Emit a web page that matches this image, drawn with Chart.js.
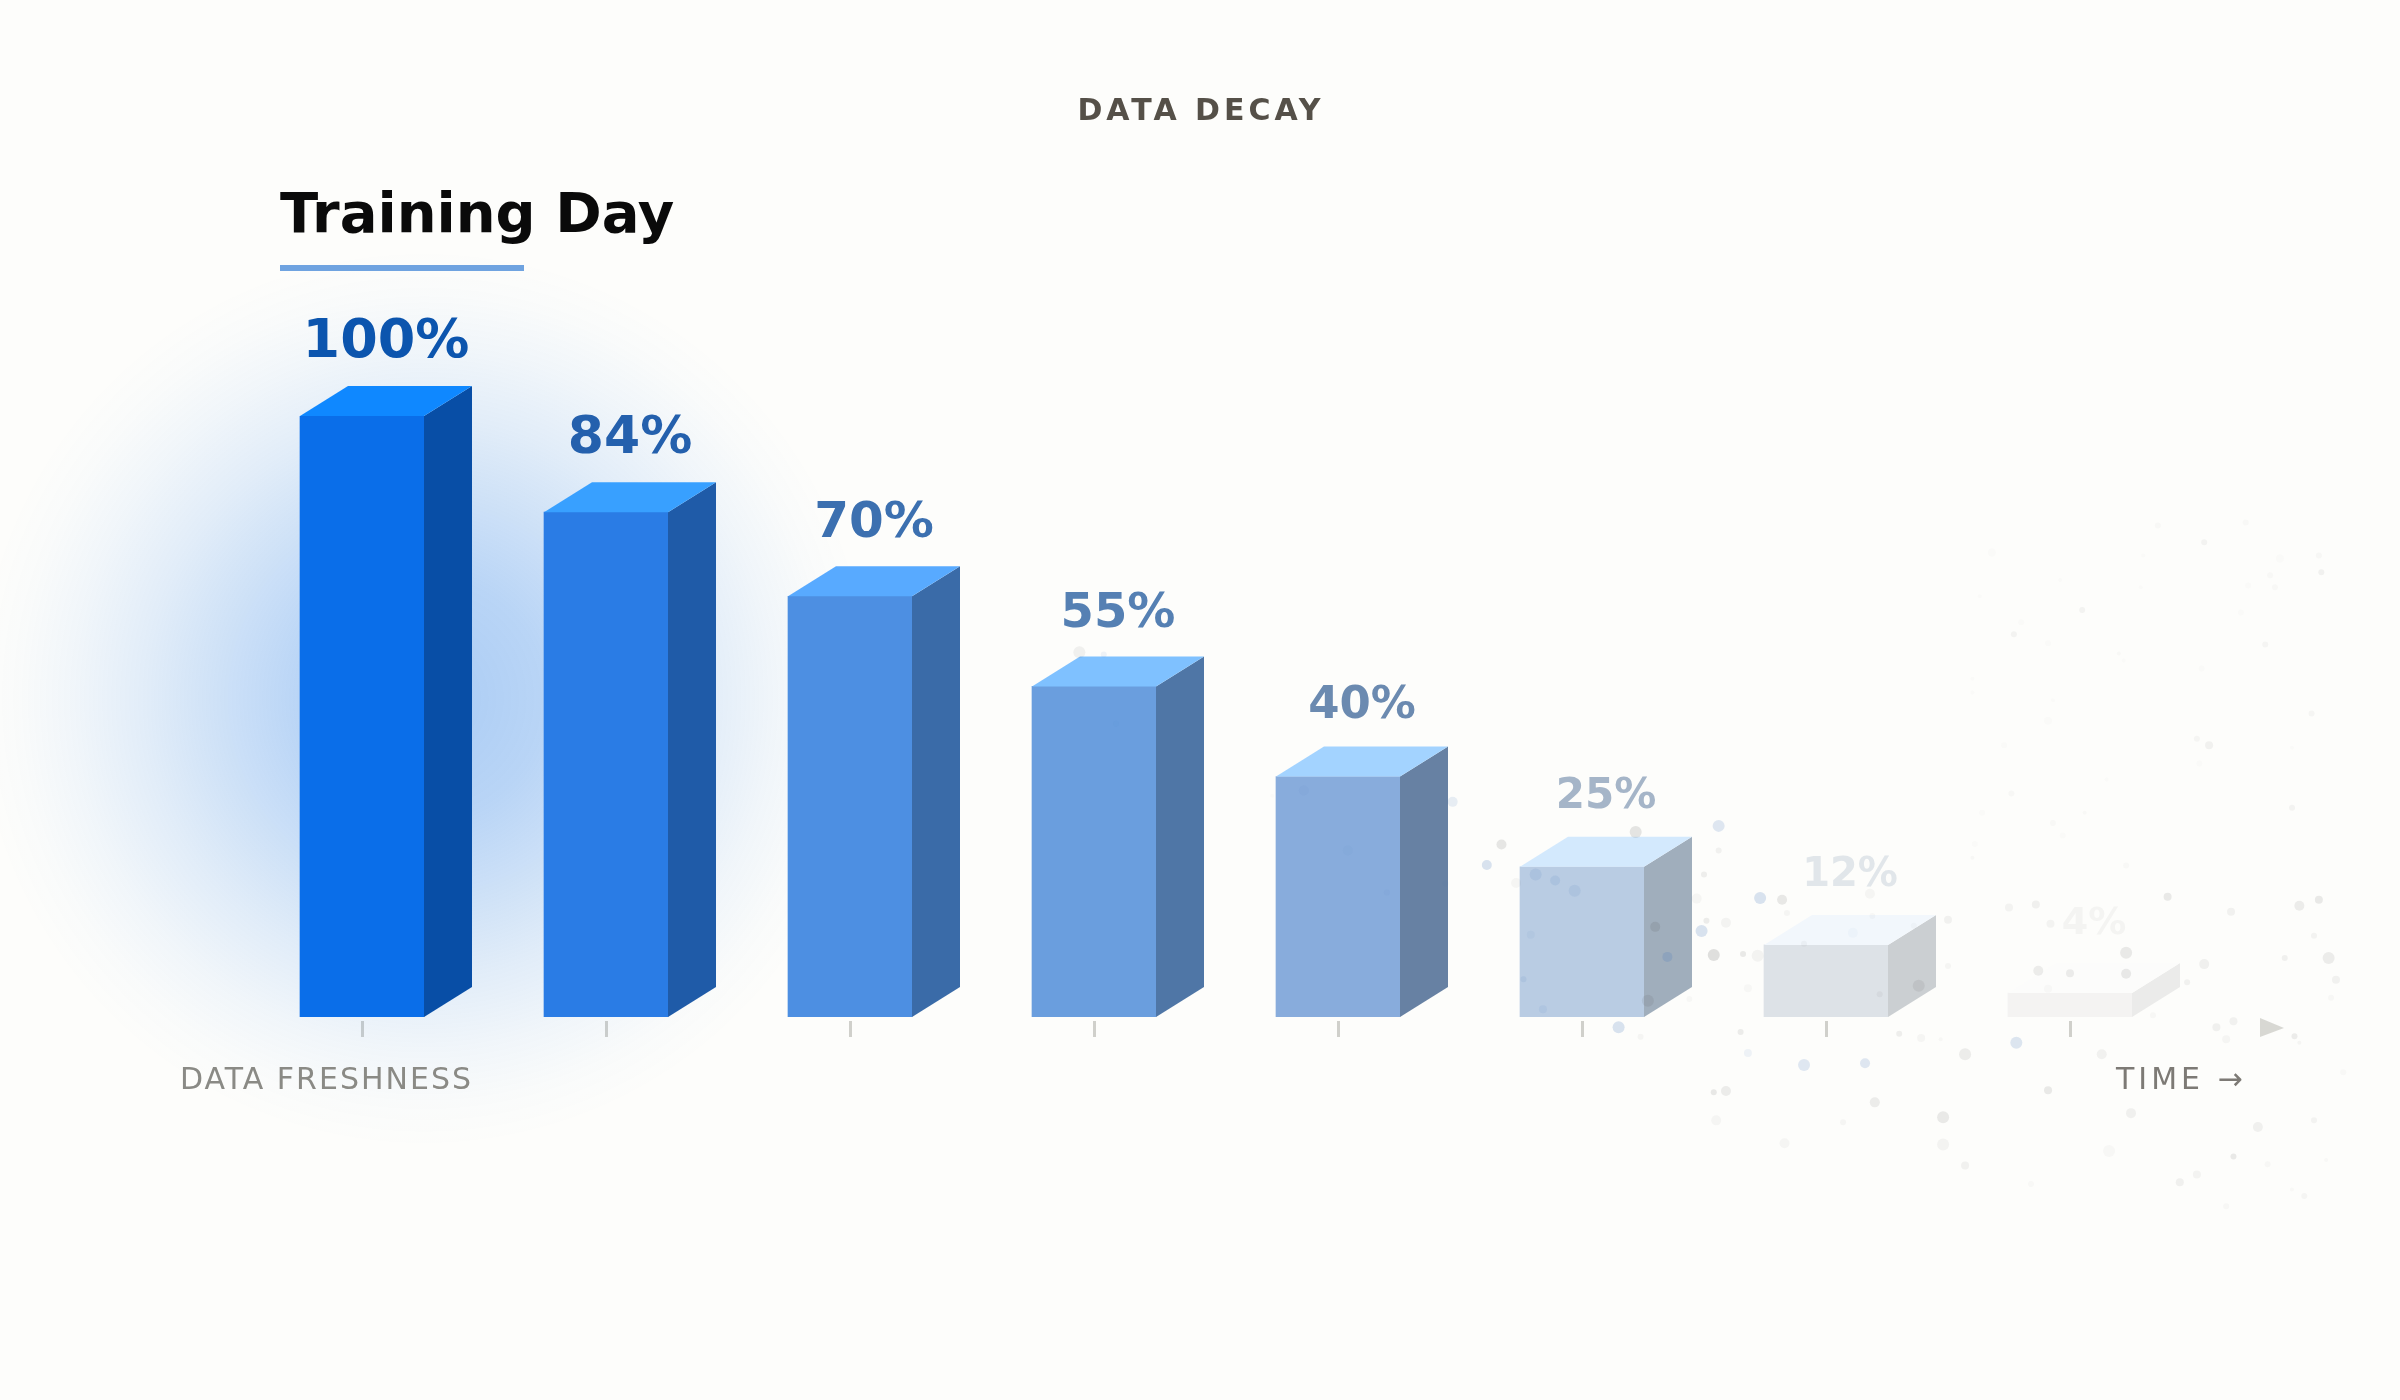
<!DOCTYPE html>
<html>
<head>
<meta charset="utf-8">
<title>Data Decay</title>
<script src="https://cdn.jsdelivr.net/npm/chart.js@4"></script>
<style>
  html, body { margin: 0; padding: 0; background: #fdfdfb; }
  canvas { display: block; }
</style>
</head>
<body>
<canvas id="chart" width="2400" height="1400"></canvas>
<script>
const categories = ["Day 1", "Day 2", "Day 3", "Day 4", "Day 5", "Day 6", "Day 7", "Day 8"];
const freshness = [100, 84, 70, 55, 40, 25, 12, 4];
const valueLabels = ["100%", "84%", "70%", "55%", "40%", "25%", "12%", "4%"];

// Faces of each box, plus the label above it. They all fade with time.
const frontColors = ["#0a6ee9", "#2a7ce5", "#4d8fe2", "#6a9ede", "#88acdc", "#b9cce3", "#dde2e7", "#f4f3f2"];
const topColors = ["#0f88ff", "#38a0ff", "#58aaff", "#7fc1ff", "#a3d3ff", "#d3e9fd", "#f2f7fc", "#fcfcfb"];
const sideColors = ["#084ea6", "#1f5ba8", "#3a6ba8", "#4f76a6", "#6781a3", "#a0aebc", "#cbcfd2", "#ebebea"];
const labelColors = ["#0c55ae", "#2460ad", "#3c70b0", "#5580b3", "#6b8ab0", "#a5b5c8", "#e1e6ea", "#f4f4f2"];
const labelSizes = [54, 52, 50, 48, 45, 42, 40, 38];

// Dust drifting off the old bars: x in bar positions, y on the same % axis.
const dustX = [4.47, 5.22, 5.56, 4.67, 4.61, 5.56, 4.81, 4.89, 4.97, 4.73, 5.5, 5.47, 5.73, 5.82, 5.84, 6.18, 5.51, 5.59, 5.49, 5.3,
  5.35, 5.54, 5.66, 5.72, 6.19, 6.5, 6.36, 6.11, 5.91, 4.79, 4.76, 4.84, 5.27, 5.44, 5.68, 6.38, 6.22, 5.15, 5.24, 5.65,
  5.68, 6.3, 6.39, 6.5, 5.91, 6.16, 6.47, 6.57, 6.78, 7.13, 5.54, 5.59, 6.91, 6.2, 6.48, 7.25, 5.55, 6.07, 6.48, 5.83,
  7.16, 6.57, 6.84, 6.75, 6.86, 6.92, 7.4, 7.66, 7.94, 8.02, 8.0, 7.88, 8.06, 8.09, 8.07, 7.23, 6.87, 7.0, 7.23, 7.55,
  7.48, 6.91, 7.34, 7.6, 7.67, 7.64, 7.92, 7.94, 7.77, 8.0, 8.12, 7.67, 7.81, 7.52, 7.45, 7.96, 7.91, 7.64, 8.05,
  7.36, 7.72, 7.55, 6.68, 7.3, 7.86, 8.02, 8.03, 7.82, 7.84, 7.73, 6.96, 7.29, 6.63, 7.05, 7.7, 6.77, 6.8, 6.91, 7.8,
  7.2, 7.22, 7.54, 6.6, 6.6, 6.93, 6.91, 7.99, 7.52, 7.57, 6.73, 7.91, 7.53, 7.15, 6.76, 7.06, 6.64, 7.91, 6.93, 6.97,
  6.61, 6.6, 7.23, 2.94, 3.04, 3.86, 4.04, 3.09, 4.2, 4.44, 3.73];
const dustY = [35.8, 30.8, 31.8, 28.7, 25.3, 27.7, 23.7, 22.7, 21, 22.3, 23.7, 19.7, 19.8, 19.5, 17.3, 20.5, 16, 15.7, 14.3, 15,
  10, 10.3, 10.5, 10.2, 16.8, 16.2, 15.2, 14, 12.2, 13.7, 6.3, 1.3, 2.7, 3, 4.8, 5.2, 3.8, -1.7, -3.3, -2.5,
  -6, -2.8, -3.5, 8.5, -8, -7.7, -3.7, -6.2, -4.3, -6.2, -12.5, -12.3, -12.2, -14.2, -16.7, -16, -17.2, -17.5, -21.2, -21,
  -22.3, -24.7, -27.8, 18.2, 18.7, 15.5, 20, 17.5, 18.5, 19.5, 13.5, 9.8, 9.8, 6.2, 3.2, 10.7, 7.7, 7.3, 7.2, 8.8,
  5.8, 4.7, 0.3, -1.7, -0.7, -3.7, -3.2, -4.3, -18.3, -17.2, -9.2, -23.2, -24.5, -26.2, -27.5, -29.8, -28.7, -31.5, -23.8,
  81.8, 82.3, 79, 77.3, 76.8, 76.3, 76.8, 74, 73.5, 71.5, 71.8, 72.7, 71.5, 70, 67.7, 67.3, 63.7, 65.7, 62.2, 62,
  60.5, 59.3, 58, 56.3, 54, 52.7, 49.3, 50.5, 46.3, 45.2, 45.2, 44.8, 42.2, 39.5, 37.2, 34, 34, 34.8, 32.3, 30.2,
  28.8, 26.5, 25.2, 60.7, 60.3, 37.7, 27.7, 48.8, 20.7, 22.2, 36.8];
const dustSize = [5, 6, 6, 5, 5, 3, 6, 5, 6, 5, 3, 5, 6, 5, 3, 5, 3, 5, 6, 5,
  5, 6, 3, 6, 3, 4, 3, 5, 3, 4, 3, 4, 6, 3, 4, 6, 3, 6, 3, 3,
  4, 3, 4, 3, 6, 5, 2, 6, 6, 5, 3, 5, 4, 5, 6, 5, 5, 3, 6, 5,
  6, 4, 3, 4, 4, 4, 4, 4, 5, 4, 3, 3, 6, 4, 3, 6, 5, 4, 5, 5,
  3, 4, 3, 4, 4, 4, 3, 2, 5, 3, 3, 3, 3, 4, 4, 3, 2, 3, 2,
  3, 3, 3, 4, 2, 4, 3, 3, 3, 3, 3, 2, 2, 2, 3, 3, 3, 3, 3, 3,
  2, 2, 3, 2, 2, 2, 4, 3, 3, 4, 3, 2, 3, 2, 3, 2, 3, 3, 3, 3,
  3, 2, 3, 6, 3, 5, 5, 3, 3, 3, 2];
const dustAlpha = [.12, .15, .17, .14, .2, .07, .12, .12, .1, .05, .09, .05, .2, .13, .05, .05, .1, .06, .2, .15,
  .2, .18, .12, .06, .04, .07, .03, .03, .05, .06, .1, .08, .12, .04, .04, .1, .06, .2, .05, .1,
  .08, .09, .05, .05, .16, .17, .04, .1, .18, .07, .13, .1, .12, .1, .12, .08, .05, .05, .06, .05,
  .04, .07, .03, .06, .08, .06, .12, .07, .1, .12, .06, .08, .1, .07, .04, .12, .1, .1, .12, .08,
  .07, .03, .04, .08, .07, .05, .1, .05, .08, .06, .03, .12, .04, .06, .08, .05, .03, .04, .03,
  .03, .03, .06, .02, .02, .02, .04, .07, .03, .03, .02, .015, .02, .02, .06, .02, .06, .015, .02, .05,
  .03, .02, .02, .015, .02, .02, .02, .05, .05, .07, .02, .02, .02, .02, .04, .03, .015, .06, .03, .015,
  .02, .04, .03, .08, .08, .05, .04, .03, .05, .04, .02];
// Positions in the dust arrays that read blue rather than grey.
const dustBlue = [0, 2, 4, 6, 7, 8, 12, 18, 20, 27, 29, 30, 31, 37, 40, 44, 45, 48, 143, 144, 145, 146, 147, 148, 150];

const DEPTH_X = 48, DEPTH_Y = 30;
const BOLD = '"DejaVu Sans", sans-serif';

function polygon(ctx, color, pts) {
  ctx.fillStyle = color;
  ctx.beginPath();
  pts.forEach((p, i) => (i ? ctx.lineTo(p[0], p[1]) : ctx.moveTo(p[0], p[1])));
  ctx.closePath();
  ctx.fill();
}

function text(ctx, str, x, y, font, color, spacing, align) {
  ctx.font = font;
  ctx.fillStyle = color;
  ctx.letterSpacing = spacing || "0px";
  ctx.textAlign = align || "left";
  ctx.textBaseline = "alphabetic";
  ctx.fillText(str, x, y);
  ctx.letterSpacing = "0px";
}

// Soft blue halo behind the freshest bars.
const glowPlugin = {
  id: "glow",
  beforeDatasetsDraw(chart) {
    const ctx = chart.ctx, cx = chart.scales.x.getPixelForTick(0) + 62, cy = chart.scales.y.getPixelForValue(53);
    const g = ctx.createRadialGradient(cx, cy, 0, cx, cy, 450);
    [[0, .34], [.27, .28], [.44, .2], [.62, .115], [.78, .05], [.9, .014], [1, 0]]
      .forEach(s => g.addColorStop(s[0], `rgba(10,110,233,${s[1]})`));
    ctx.save();
    ctx.fillStyle = g;
    ctx.fillRect(cx - 450, cy - 450, 900, 900);
    ctx.restore();
  },
};

// Turns the flat bars into boxes, using each bar element's own geometry.
const boxPlugin = {
  id: "boxes",
  afterDatasetDraw(chart, args) {
    if (args.meta.type !== "bar") return;
    const ctx = chart.ctx;
    args.meta.data.forEach((bar, i) => {
      const left = bar.x - bar.width / 2, right = bar.x + bar.width / 2;
      polygon(ctx, sideColors[i], [[right, bar.y], [right + DEPTH_X, bar.y - DEPTH_Y], [right + DEPTH_X, bar.base - DEPTH_Y], [right, bar.base]]);
      polygon(ctx, topColors[i], [[left, bar.y], [left + DEPTH_X, bar.y - DEPTH_Y], [right + DEPTH_X, bar.y - DEPTH_Y], [right, bar.y]]);
    });
  },
};

// PointElement skips anything outside chartArea, and the dust runs past it.
const dustPlugin = {
  id: "dust",
  beforeDatasetDraw(chart, args) {
    if (args.meta.type !== "scatter") return;
    const all = { left: 0, top: 0, right: chart.width, bottom: chart.height };
    args.meta.data.forEach(pt => pt.draw(chart.ctx, all));
    return false;
  },
};

const annotationPlugin = {
  id: "annotations",
  afterDatasetsDraw(chart) {
    const ctx = chart.ctx;
    const bars = chart.getDatasetMeta(0).data;
    bars.forEach((bar, i) => {
      text(ctx, valueLabels[i], bar.x + DEPTH_X / 2, bar.y - DEPTH_Y - 29, `bold ${labelSizes[i]}px ${BOLD}`, labelColors[i], "0px", "center");
    });

    text(ctx, "DATA DECAY", 1201, 120, `bold 30px ${BOLD}`, "#555048", "4px", "center");
    text(ctx, "Training Day", 280, 232, `bold 56px ${BOLD}`, "#0a0a0a");
    ctx.fillStyle = "#6fa3e0";
    ctx.fillRect(280, 265, 244, 6);

    text(ctx, "DATA FRESHNESS", 180, 1089, `30px ${BOLD}`, "#8a8a85", "2px");
    text(ctx, "TIME →", 2116, 1089, `30px ${BOLD}`, "#7d7a75", "4px");
    polygon(ctx, "#d8d8d3", [[2260, 1018], [2284, 1028], [2260, 1037]]);
  },
};

new Chart(document.getElementById("chart"), {
  type: "bar",
  data: {
    labels: categories,
    datasets: [
      {
        data: freshness,
        backgroundColor: frontColors,
        barThickness: 124,
        grouped: false,
        borderWidth: 0,
        order: 2,
      },
      {
        type: "scatter",
        data: dustX.map((x, i) => ({ x, y: dustY[i] })),
        xAxisID: "xDust",
        yAxisID: "y",
        clip: false,
        order: 1,
        pointRadius: dustSize,
        pointBorderWidth: 0,
        pointBackgroundColor: dustAlpha.map((a, i) =>
          dustBlue.includes(i) ? `rgba(70,120,190,${a})` : `rgba(90,90,90,${a})`),
      },
    ],
  },
  options: {
    responsive: false,
    animation: false,
    layout: { padding: { left: 240, right: 208, top: 416, bottom: 363 } },
    plugins: { legend: { display: false }, tooltip: { enabled: false } },
    scales: {
      x: {
        ticks: { display: false },
        border: { display: false },
        grid: {
          offset: false,
          drawOnChartArea: false,
          tickLength: 20,
          tickWidth: 3,
          tickColor: "#d0d0cb",
          tickBorderDash: [0, 4, 16, 4],
        },
      },
      xDust: { type: "linear", display: false, offset: false, min: -0.5, max: 7.5 },
      y: { display: false, min: 0, max: 100 },
    },
  },
  plugins: [glowPlugin, boxPlugin, dustPlugin, annotationPlugin],
});
</script>
</body>
</html>
